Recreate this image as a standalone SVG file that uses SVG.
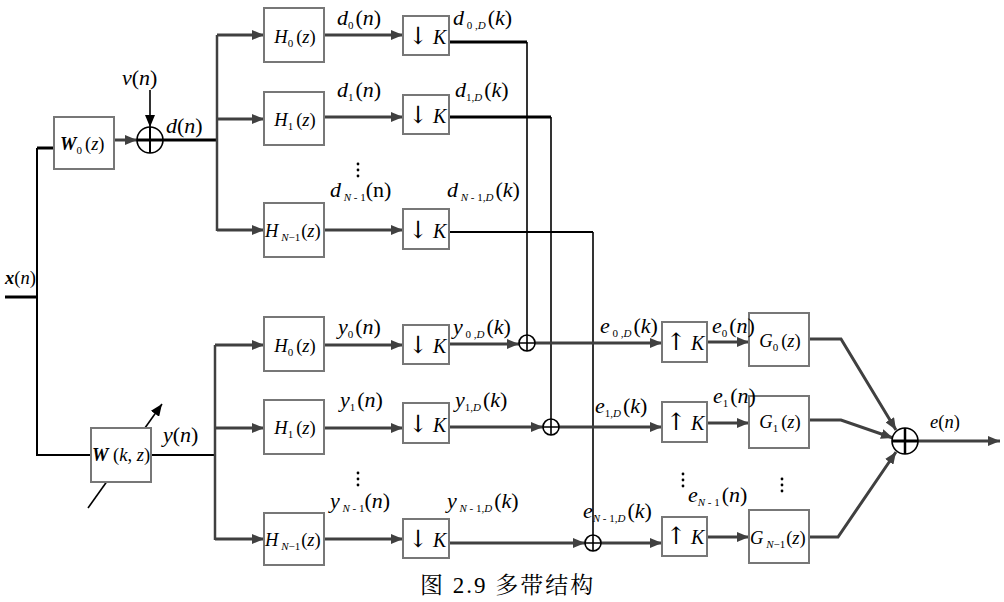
<svg xmlns="http://www.w3.org/2000/svg" width="1004" height="602" viewBox="0 0 1004 602" font-family="'Liberation Serif', 'Times New Roman', 'DejaVu Serif', serif">
<defs>
<style>
.box{fill:#fff;stroke:#777;stroke-width:2}
.ar{fill:none;stroke:#404040;stroke-width:3;marker-end:url(#ah)}
.bk{fill:none;stroke:#000;stroke-width:3}
.bt{fill:none;stroke:#000;stroke-width:1.6}
text{font-family:'Liberation Serif','Times New Roman','DejaVu Serif',serif;fill:#000}
.L{font-size:22px}
.B{font-size:18.5px}
.K{font-size:20px}
.ak{font-size:24px;font-family:'DejaVu Serif',serif}
.i{font-style:italic}
.b{font-weight:bold}
.s{font-size:11px;font-style:normal}
.sb{font-size:11px;font-style:italic}
.cap{font-family:'Liberation Serif','Noto Serif CJK SC','Noto Sans CJK SC',serif;font-size:23px}
.cir{fill:#fff;stroke:#000;stroke-width:1.6}
</style>
<marker id="ah" viewBox="0 0 12 10" refX="12" refY="5" markerWidth="12" markerHeight="10" markerUnits="userSpaceOnUse" orient="auto"><path d="M0,0 L12,5 L0,10 z" fill="#404040"/></marker>
<marker id="ahb" viewBox="0 0 12 10" refX="12" refY="5" markerWidth="12" markerHeight="10" markerUnits="userSpaceOnUse" orient="auto"><path d="M0,0 L12,5 L0,10 z" fill="#000"/></marker>
</defs>
<rect width="1004" height="602" fill="#fff"/>

<g id="connectors">
<path class="bk" d="M5,297 H37"/>
<path fill="none" stroke="#000" stroke-width="2" d="M37,148 V455 H91"/>
<path class="bk" d="M37,148 H54"/>
<path class="ar" d="M114,140 H137"/>
<path fill="none" stroke="#000" stroke-width="1.6" marker-end="url(#ahb)" d="M150,90 V127"/>
<path class="bk" d="M163,140 H217"/>
<path fill="none" stroke="#404040" stroke-width="2.5" d="M217,35 V231"/>
<path class="ar" d="M217,35 H264"/>
<path class="ar" d="M217,119 H264"/>
<path class="ar" d="M217,230 H264"/>
<path class="ar" d="M324,35 H403"/>
<path class="ar" d="M324,117 H403"/>
<path class="ar" d="M324,230 H403"/>
<path class="bk" d="M449,42 H527"/>
<path class="bt" d="M527,42 V335"/>
<path class="bk" d="M449,117 H551"/>
<path class="bt" d="M551,117 V419"/>
<path fill="none" stroke="#000" stroke-width="2" d="M449,232 H593"/>
<path class="bt" d="M593,232 V535"/>
<path fill="none" stroke="#000" stroke-width="2" d="M151,455 H215"/>
<path fill="none" stroke="#000" stroke-width="1.6" marker-end="url(#ahb)" d="M88,508 L162,404"/>
<path fill="none" stroke="#404040" stroke-width="2.5" d="M215,345 V540"/>
<path class="ar" d="M215,345 H264"/>
<path class="ar" d="M215,428 H264"/>
<path class="ar" d="M215,539 H264"/>
<path class="ar" d="M324,345 H403"/>
<path class="ar" d="M324,428 H403"/>
<path class="ar" d="M324,539 H403"/>
<path class="ar" d="M449,344 H519"/>
<path class="ar" d="M449,427 H543"/>
<path class="ar" d="M449,543 H585"/>
<path class="ar" d="M535,343 H662"/>
<path class="ar" d="M559,427 H662"/>
<path class="ar" d="M601,543 H662"/>
<path class="ar" d="M707,342 H749"/>
<path class="ar" d="M707,423 H749"/>
<path class="ar" d="M707,537 H749"/>
<path class="ar" d="M809,339 H841 L896,430"/>
<path class="ar" d="M809,420 H841 L893,438"/>
<path class="ar" d="M809,537 H838 L896,452"/>
<path class="ar" d="M918,441 H1000"/>
</g>

<g id="W0"><rect class="box" x="54" y="117" width="60" height="52"/>
<text class="B" x="60" y="150" font-size="19"><tspan class="i b">W</tspan><tspan class="s" dy="4">0</tspan><tspan dy="-4" dx="3">(</tspan><tspan class="i">z</tspan>)</text></g>
<g id="sum-d"><circle class="cir" cx="150" cy="140" r="13"/><path stroke="#000" stroke-width="3" d="M137,140 H163"/><path stroke="#000" stroke-width="2" d="M150,127 V153"/></g>
<g id="Wkz"><rect class="box" x="91" y="428" width="60" height="54"/>
<text class="B" x="92" y="461"><tspan class="i b">W</tspan> (<tspan class="i">k</tspan>, <tspan class="i">z</tspan>)</text></g>

<g id="H0-top"><rect class="box" x="264" y="8" width="60" height="54"/><text class="B" x="295" y="43" text-anchor="middle"><tspan class="i">H</tspan><tspan class="s" dy="4">0</tspan><tspan dy="-4" dx="3">(</tspan><tspan class="i">z</tspan>)</text></g>
<g id="H1-top"><rect class="box" x="264" y="92" width="60" height="53"/><text class="B" x="295" y="126" text-anchor="middle"><tspan class="i">H</tspan><tspan class="s" dy="4">1</tspan><tspan dy="-4" dx="3">(</tspan><tspan class="i">z</tspan>)</text></g>
<g id="HN-top"><rect class="box" x="264" y="203" width="60" height="54"/><text class="B" x="265" y="237"><tspan class="i">H</tspan><tspan class="sb" dy="4"> N</tspan><tspan class="s">−1</tspan><tspan dy="-4" dx="1">(</tspan><tspan class="i">z</tspan>)</text></g>
<g id="D0"><rect class="box" x="403" y="16" width="46" height="39"/><text class="K" x="408" y="44"><tspan class="ak">↓</tspan> <tspan class="i">K</tspan></text></g>
<g id="D1"><rect class="box" x="403" y="95" width="46" height="39"/><text class="K" x="408" y="123"><tspan class="ak">↓</tspan> <tspan class="i">K</tspan></text></g>
<g id="DN"><rect class="box" x="403" y="209" width="46" height="40"/><text class="K" x="408" y="238"><tspan class="ak">↓</tspan> <tspan class="i">K</tspan></text></g>

<g id="H0-bot"><rect class="box" x="264" y="317" width="60" height="54"/><text class="B" x="295" y="352" text-anchor="middle"><tspan class="i">H</tspan><tspan class="s" dy="4">0</tspan><tspan dy="-4" dx="3">(</tspan><tspan class="i">z</tspan>)</text></g>
<g id="H1-bot"><rect class="box" x="264" y="400" width="60" height="54"/><text class="B" x="295" y="434" text-anchor="middle"><tspan class="i">H</tspan><tspan class="s" dy="4">1</tspan><tspan dy="-4" dx="3">(</tspan><tspan class="i">z</tspan>)</text></g>
<g id="HN-bot"><rect class="box" x="264" y="513" width="60" height="52"/><text class="B" x="265" y="546"><tspan class="i">H</tspan><tspan class="sb" dy="4"> N</tspan><tspan class="s">−1</tspan><tspan dy="-4" dx="1">(</tspan><tspan class="i">z</tspan>)</text></g>
<g id="Db0"><rect class="box" x="403" y="325" width="46" height="39"/><text class="K" x="408" y="353"><tspan class="ak">↓</tspan> <tspan class="i">K</tspan></text></g>
<g id="Db1"><rect class="box" x="403" y="403" width="46" height="40"/><text class="K" x="408" y="432"><tspan class="ak">↓</tspan> <tspan class="i">K</tspan></text></g>
<g id="DbN"><rect class="box" x="403" y="519" width="46" height="39"/><text class="K" x="408" y="547"><tspan class="ak">↓</tspan> <tspan class="i">K</tspan></text></g>

<g id="s0"><circle class="cir" cx="527" cy="343" r="8"/><path stroke="#000" stroke-width="1.6" d="M519,343 H535 M527,335 V351"/></g>
<g id="s1"><circle class="cir" cx="551" cy="427" r="8"/><path stroke="#000" stroke-width="1.6" d="M543,427 H559 M551,419 V435"/></g>
<g id="sN"><circle class="cir" cx="593" cy="543" r="8"/><path stroke="#000" stroke-width="1.6" d="M585,543 H601 M593,535 V551"/></g>

<g id="U0"><rect class="box" x="662" y="322" width="45" height="40"/><text class="K" x="666" y="350"><tspan class="ak">↑</tspan> <tspan class="i">K</tspan></text></g>
<g id="U1"><rect class="box" x="662" y="402" width="45" height="40"/><text class="K" x="666" y="430"><tspan class="ak">↑</tspan> <tspan class="i">K</tspan></text></g>
<g id="UN"><rect class="box" x="662" y="517" width="45" height="39"/><text class="K" x="666" y="544"><tspan class="ak">↑</tspan> <tspan class="i">K</tspan></text></g>

<g id="G0"><rect class="box" x="749" y="313" width="60" height="53"/><text class="B" x="780" y="347" text-anchor="middle"><tspan class="i">G</tspan><tspan class="s" dy="4">0</tspan><tspan dy="-4" dx="3">(</tspan><tspan class="i">z</tspan>)</text></g>
<g id="G1"><rect class="box" x="749" y="396" width="60" height="52"/><text class="B" x="780" y="428" text-anchor="middle"><tspan class="i">G</tspan><tspan class="s" dy="4">1</tspan><tspan dy="-4" dx="3">(</tspan><tspan class="i">z</tspan>)</text></g>
<g id="GN"><rect class="box" x="749" y="510" width="60" height="53"/><text class="B" x="750" y="544"><tspan class="i">G</tspan><tspan class="sb" dy="4"> N</tspan><tspan class="s">−1</tspan><tspan dy="-4" dx="1">(</tspan><tspan class="i">z</tspan>)</text></g>

<g id="sum-e"><circle class="cir" cx="905" cy="441" r="13"/><path stroke="#000" stroke-width="3" d="M892,441 H918"/><path stroke="#000" stroke-width="2.5" d="M905,428 V454"/></g>

<g id="labels">
<text class="L" x="122" y="85"><tspan class="i">v</tspan>(<tspan class="i">n</tspan>)</text>
<text class="L" x="166" y="133"><tspan class="i">d</tspan>(<tspan class="i">n</tspan>)</text>
<text class="B" x="5" y="284"><tspan class="i b">x</tspan>(<tspan class="i">n</tspan>)</text>
<text class="L" x="163" y="442"><tspan class="i">y</tspan>(<tspan class="i">n</tspan>)</text>

<text class="L" x="337" y="25"><tspan class="i">d</tspan><tspan class="s" dy="4">0</tspan><tspan dy="-4" dx="2">(</tspan><tspan class="i">n</tspan>)</text>
<text class="L" x="453" y="25"><tspan class="i">d</tspan><tspan class="s" dy="4"> 0 ,</tspan><tspan class="sb">D</tspan><tspan dy="-4" dx="2">(</tspan><tspan class="i">k</tspan>)</text>
<text class="L" x="337" y="97"><tspan class="i">d</tspan><tspan class="s" dy="4">1</tspan><tspan dy="-4" dx="2">(</tspan><tspan class="i">n</tspan>)</text>
<text class="L" x="455" y="97"><tspan class="i">d</tspan><tspan class="s" dy="4">1,</tspan><tspan class="sb">D</tspan><tspan dy="-4" dx="2">(</tspan><tspan class="i">k</tspan>)</text>
<text class="L" x="330" y="197"><tspan class="i">d</tspan><tspan class="sb" dy="4"> N</tspan><tspan class="s"> - 1</tspan><tspan dy="-4">(n)</tspan></text>
<text class="L" x="447" y="197"><tspan class="i">d</tspan><tspan class="sb" dy="4"> N</tspan><tspan class="s"> - 1,</tspan><tspan class="sb">D</tspan><tspan dy="-4" dx="2">(</tspan><tspan class="i">k</tspan>)</text>

<text class="L" x="338" y="334"><tspan class="i">y</tspan><tspan class="s" dy="4">0</tspan><tspan dy="-4" dx="2">(</tspan><tspan class="i">n</tspan>)</text>
<text class="L" x="453" y="334"><tspan class="i">y</tspan><tspan class="s" dy="4"> 0 ,</tspan><tspan class="sb">D</tspan><tspan dy="-4" dx="2">(</tspan><tspan class="i">k</tspan>)</text>
<text class="L" x="340" y="407"><tspan class="i">y</tspan><tspan class="s" dy="4">1</tspan><tspan dy="-4" dx="2">(</tspan><tspan class="i">n</tspan>)</text>
<text class="L" x="455" y="407"><tspan class="i">y</tspan><tspan class="s" dy="4">1,</tspan><tspan class="sb">D</tspan><tspan dy="-4" dx="2">(</tspan><tspan class="i">k</tspan>)</text>
<text class="L" x="330" y="508"><tspan class="i">y</tspan><tspan class="sb" dy="4"> N</tspan><tspan class="s"> - 1</tspan><tspan dy="-4">(</tspan><tspan class="i">n</tspan>)</text>
<text class="L" x="447" y="508"><tspan class="i">y</tspan><tspan class="sb" dy="4"> N</tspan><tspan class="s"> - 1,</tspan><tspan class="sb">D</tspan><tspan dy="-4" dx="2">(</tspan><tspan class="i">k</tspan>)</text>

<text class="L" x="600" y="333"><tspan class="i">e</tspan><tspan class="s" dy="4"> 0 ,</tspan><tspan class="sb">D</tspan><tspan dy="-4" dx="2">(</tspan><tspan class="i">k</tspan>)</text>
<text class="L" x="712" y="333"><tspan class="i">e</tspan><tspan class="s" dy="4">0</tspan><tspan dy="-4" dx="2">(</tspan><tspan class="i">n</tspan>)</text>
<text class="L" x="595" y="413"><tspan class="i">e</tspan><tspan class="s" dy="4">1,</tspan><tspan class="sb">D</tspan><tspan dy="-4" dx="2">(</tspan><tspan class="i">k</tspan>)</text>
<text class="L" x="713" y="403"><tspan class="i">e</tspan><tspan class="s" dy="4">1</tspan><tspan dy="-4" dx="2">(</tspan><tspan class="i">n</tspan>)</text>
<text class="L" x="583" y="518"><tspan class="i">e</tspan><tspan class="sb" dy="4">N</tspan><tspan class="s"> - 1,</tspan><tspan class="sb">D</tspan><tspan dy="-4" dx="2">(</tspan><tspan class="i">k</tspan>)</text>
<text class="L" x="688" y="502"><tspan class="i">e</tspan><tspan class="sb" dy="4">N</tspan><tspan class="s"> - 1</tspan><tspan dy="-4" dx="2">(</tspan><tspan class="i">n</tspan>)</text>
<text class="B" x="930" y="428" font-size="17"><tspan class="i">e</tspan>(<tspan class="i">n</tspan>)</text>

<g fill="#000"><circle cx="358" cy="164" r="1.4"/><circle cx="358" cy="170" r="1.4"/><circle cx="358" cy="176" r="1.4"/>
<circle cx="358" cy="473" r="1.4"/><circle cx="358" cy="479" r="1.4"/><circle cx="358" cy="485" r="1.4"/>
<circle cx="683" cy="474" r="1.4"/><circle cx="683" cy="480" r="1.4"/><circle cx="683" cy="486" r="1.4"/>
<circle cx="782" cy="479" r="1.4"/><circle cx="782" cy="485" r="1.4"/><circle cx="782" cy="491" r="1.4"/></g>

<text class="cap" x="420" y="593" letter-spacing="2">图 2.9  多带结构</text>
</g>
</svg>
